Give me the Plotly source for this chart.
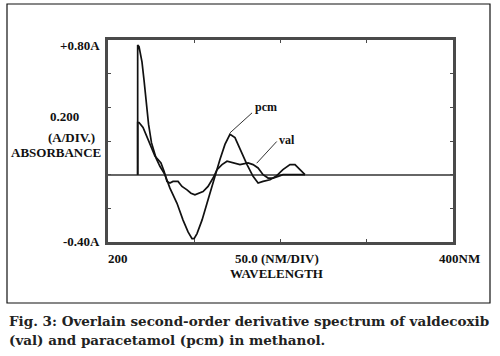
import plotly.graph_objects as go

# Data (wavelength nm, second-derivative absorbance)
pcm_wl = [217.2, 217.2, 218.0, 219.1, 219.7, 220.9, 222.0, 223.5, 225.2, 227.8, 230.1, 233.0,
          235.9, 240.0, 243.5, 246.4, 248.7, 249.9, 251.6, 254.5, 257.4, 260.3, 262.0, 264.9,
          267.8, 270.7, 273.6, 276.5, 280.6, 284.1, 287.0, 289.9, 293.9, 297.4, 301.4, 305.5,
          308.4, 311.3, 314.2]
pcm_abs = [0.00, 0.77, 0.76, 0.71, 0.67, 0.56, 0.44, 0.30, 0.19, 0.10, 0.05, 0.00,
           -0.08, -0.17, -0.27, -0.34, -0.38, -0.38, -0.35, -0.27, -0.17, -0.07, 0.00, 0.09,
           0.18, 0.24, 0.22, 0.15, 0.06, -0.01, -0.05, -0.04, -0.03, -0.01, 0.03, 0.06,
           0.06, 0.03, 0.00]

val_wl = [217.2, 217.2, 218.0, 220.3, 223.2, 225.5, 227.2, 229.0, 230.7, 232.5, 234.2, 235.9,
          237.7, 240.6, 242.9, 245.8, 248.1, 250.4, 252.8, 255.1, 258.0, 260.9, 263.2, 266.1,
          269.0, 272.5, 276.5, 281.2, 284.1, 287.0, 289.9, 292.8, 295.7, 298.6, 301.4, 314.2]
val_abs = [0.00, 0.31, 0.31, 0.28, 0.21, 0.15, 0.11, 0.09, 0.07, 0.02, -0.04, -0.05,
           -0.04, -0.04, -0.07, -0.09, -0.11, -0.12, -0.11, -0.10, -0.07, -0.02, 0.03, 0.06,
           0.08, 0.07, 0.06, 0.07, 0.06, 0.04, 0.00, -0.02, -0.02, -0.01, 0.00, 0.00]

y_ticks = [-0.4, -0.2, 0.0, 0.2, 0.4, 0.6, 0.8]
x_ticks = [250, 300, 350]

LBL = dict(family="Liberation Serif", size=13, color="#111")
AX = "#4a4a4a"

fig = go.Figure()
fig.add_trace(go.Scatter(x=pcm_wl, y=pcm_abs, mode="lines", name="pcm",
                         line=dict(color="#111", width=1.7), showlegend=False))
fig.add_trace(go.Scatter(x=val_wl, y=val_abs, mode="lines", name="val",
                         line=dict(color="#111", width=1.7), showlegend=False))

fig.update_xaxes(range=[200, 400], showgrid=False, zeroline=False, showline=True,
                 linecolor=AX, linewidth=2.5, mirror="ticks", ticks="inside", ticklen=3,
                 tickcolor=AX, tickwidth=1, tickvals=x_ticks, showticklabels=False)
fig.update_yaxes(range=[-0.4, 0.8], showgrid=False, zeroline=True, zerolinecolor="#666",
                 zerolinewidth=2, showline=True, linecolor=AX, linewidth=2.5, mirror="ticks",
                 ticks="inside", ticklen=3, tickcolor=AX, tickwidth=1, tickvals=y_ticks,
                 showticklabels=False)

L, B = 108, 114  # plot-area left and bottom margins (px)
H = 356


def txt(s, cx, cy, anchor="center", size=13):
    f = dict(LBL)
    f["size"] = size
    fig.add_annotation(text="<b>" + s + "</b>", xref="paper", yref="paper", x=0, y=0,
                       xshift=cx - L, yshift=(H - B) - cy, xanchor=anchor, yanchor="middle",
                       showarrow=False, font=f)


txt("+0.80A", 102, 45, "right")
txt("0.200", 64, 116)
txt("(A/DIV.)", 71, 137)
txt("ABSORBANCE", 103, 152, "right")
txt("-0.40A", 102, 241, "right")
txt("200", 106, 258, "left")
txt("50.0 (NM/DIV)", 277, 258)
txt("WAVELENGTH", 276, 273)
txt("400NM", 437, 258, "left")

# series labels with leader lines
fig.add_shape(type="line", x0=270.7, y0=0.248, x1=283.5, y1=0.367,
              line=dict(color="#333", width=1))
fig.add_shape(type="line", x0=286.2, y0=0.068, x1=297.8, y1=0.197,
              line=dict(color="#333", width=1))
fig.add_annotation(text="<b>pcm</b>", x=284.0, y=0.40, xanchor="left", yanchor="middle",
                   showarrow=False, font=dict(family="Liberation Serif", size=12, color="#111"))
fig.add_annotation(text="<b>val</b>", x=298.0, y=0.205, xanchor="left", yanchor="middle",
                   showarrow=False, font=dict(family="Liberation Serif", size=12, color="#111"))

# outer frame
fig.add_shape(type="rect", xref="paper", yref="paper",
              x0=(7 - L) / 345, x1=(490 - L) / 345,
              y0=((H - 303) - B) / 202, y1=((H - 4) - B) / 202,
              line=dict(color="#111", width=1.2))

# caption
cap = dict(family="DejaVu Serif", size=13.5, color="#222")
fig.add_annotation(text="<b>Fig. 3: Overlain second-order derivative spectrum of valdecoxib</b>",
                   xref="paper", yref="paper", x=0, y=0, xshift=7 - L, yshift=(H - B) - 321,
                   xanchor="left", yanchor="middle", showarrow=False, font=cap)
fig.add_annotation(text="<b>(val) and paracetamol (pcm) in methanol.</b>",
                   xref="paper", yref="paper", x=0, y=0, xshift=7 - L, yshift=(H - B) - 340,
                   xanchor="left", yanchor="middle", showarrow=False, font=cap)

fig.update_layout(width=500, height=356, margin=dict(l=L, r=47, t=40, b=B),
                  paper_bgcolor="white", plot_bgcolor="white")
fig.write_html("out.html", config={"displayModeBar": False},
               post_script="document.body.style.margin='0';document.body.style.padding='0';"
                           "document.body.style.overflow='hidden';")
